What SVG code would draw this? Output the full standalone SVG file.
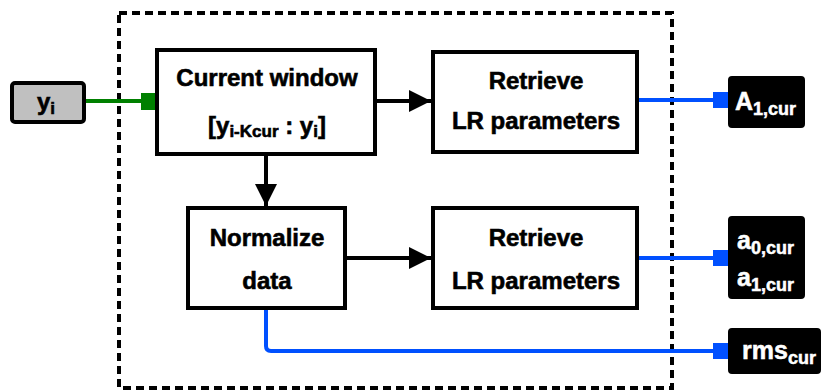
<svg xmlns="http://www.w3.org/2000/svg" width="823" height="391" viewBox="0 0 823 391">
<style>
.box{fill:#fff;stroke:#000;stroke-width:4}
.t{font-family:"Liberation Sans",Arial,sans-serif;font-weight:bold;font-size:24px;text-anchor:middle;fill:#000;stroke:#000;stroke-width:0.6}
.o{font-family:"Liberation Sans",Arial,sans-serif;font-weight:bold;font-size:25px;fill:#fff;stroke:#fff;stroke-width:0.5}
.out{fill:#000;stroke:#000;stroke-width:2}
.blk{stroke:#000;stroke-width:4;fill:none}
.blu{stroke:#0050ff;stroke-width:4;fill:none}
</style>
<defs>
<marker id="ah" viewBox="0 0 10 10" refX="10" refY="5" markerWidth="28" markerHeight="22" markerUnits="userSpaceOnUse" orient="auto"><path d="M0,0L10,5L0,10Z" fill="#000"/></marker>
</defs>
<rect x="119" y="13" width="553" height="375" fill="none" stroke="#000" stroke-width="4" stroke-dasharray="8,5"/>
<g id="connectors">
<line x1="85" y1="101" x2="142" y2="101" stroke="#008000" stroke-width="4"/>
<rect x="141" y="93" width="16" height="17" fill="#008000"/>
<line class="blk" x1="375" y1="101" x2="431" y2="101" marker-end="url(#ah)"/>
<line class="blk" x1="266" y1="155" x2="266" y2="206" marker-end="url(#ah)"/>
<line class="blk" x1="345" y1="258" x2="431" y2="258" marker-end="url(#ah)"/>
<line class="blu" x1="638" y1="100" x2="715" y2="100"/>
<rect x="713" y="92" width="16" height="16" fill="#0050ff"/>
<line class="blu" x1="638" y1="258" x2="715" y2="258"/>
<rect x="713" y="250" width="16" height="16" fill="#0050ff"/>
<path class="blu" d="M266,308V346Q266,351 271,351H715"/>
<rect x="713" y="343" width="16" height="16" fill="#0050ff"/>
</g>
<g id="yi">
<rect x="12" y="83" width="72" height="39" rx="3" fill="#c0c0c0" stroke="#000" stroke-width="4"/>
<text class="t" x="46" y="110" font-size="27">y<tspan font-size="17" dy="4">i</tspan></text>
</g>
<g id="current">
<rect class="box" x="157" y="50" width="218" height="104"/>
<text class="t" x="267" y="86">Current window</text>
<text class="t" x="267" y="134">[y<tspan font-size="17" dy="3">i-Kcur</tspan><tspan dy="-3"> : y</tspan><tspan font-size="17" dy="3">i</tspan><tspan dy="-3">]</tspan></text>
</g>
<g id="retrieve1">
<rect class="box" x="433" y="52" width="204" height="100"/>
<text class="t" x="536" y="89">Retrieve</text>
<text class="t" x="536" y="129">LR parameters</text>
</g>
<g id="normalize">
<rect class="box" x="188" y="208" width="157" height="100"/>
<text class="t" x="267" y="246">Normalize</text>
<text class="t" x="267" y="289">data</text>
</g>
<g id="retrieve2">
<rect class="box" x="433" y="208" width="204" height="100"/>
<text class="t" x="536" y="246">Retrieve</text>
<text class="t" x="536" y="289">LR parameters</text>
</g>
<g id="A1cur">
<rect class="out" x="729" y="77" width="75" height="50" rx="3"/>
<text class="o" x="735" y="110">A<tspan font-size="18" dy="5">1,cur</tspan></text>
</g>
<g id="a01cur">
<rect class="out" x="729" y="217" width="75" height="81" rx="3"/>
<text class="o" x="737" y="249">a<tspan font-size="18" dy="5">0,cur</tspan></text>
<text class="o" x="737" y="286">a<tspan font-size="18" dy="5">1,cur</tspan></text>
</g>
<g id="rmscur">
<rect class="out" x="729" y="329" width="91" height="44" rx="3"/>
<text class="o" x="742" y="359">rms<tspan font-size="18" dy="5">cur</tspan></text>
</g>
</svg>
